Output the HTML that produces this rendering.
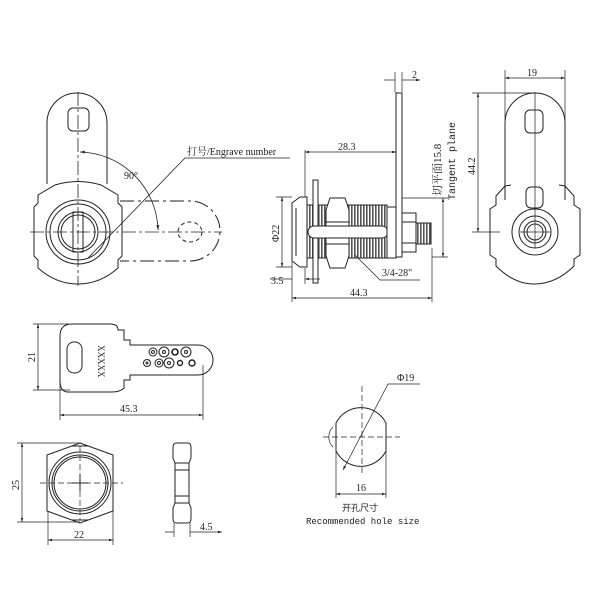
<!DOCTYPE html>
<html><head><meta charset="utf-8"><style>
html,body{margin:0;padding:0;background:#fff}
svg{display:block}
text{font-family:"Liberation Serif","Noto Serif CJK SC",serif;font-size:10px;fill:#222}
.m{font-family:"Liberation Mono","Noto Sans CJK SC",monospace;font-size:9px}
</style></head><body>
<svg width="600" height="600" viewBox="0 0 600 600" xmlns="http://www.w3.org/2000/svg">
<defs>
<pattern id="thr" width="3" height="10" patternUnits="userSpaceOnUse"><rect width="3" height="10" fill="#fff"/><rect width="1.6" height="10" fill="#555"/></pattern>
<marker id="a" viewBox="0 0 10 10" refX="10" refY="5" markerWidth="6" markerHeight="6" orient="auto-start-reverse"><path d="M0,2 L10,5 L0,8z" fill="#222"/></marker>
</defs>
<g fill="none" stroke="#222" stroke-width="1">
<path d="M47,184 V123 A30,30 0 0 1 107,123 V184"/>
<rect x="68" y="108" width="21" height="23" rx="5"/>
<path d="M55,185 Q78,178 101,185 L118,195 L118,203 L122,207 L122,256 L118,260 L118,268 Q100,284 78,284 Q56,284 38,268 L38,260 L34,256 L34,207 L38,203 L38,195 Z"/>
<circle cx="78" cy="232" r="32"/>
<circle cx="78" cy="232" r="28"/>
<circle cx="78" cy="232" r="20"/>
<circle cx="78" cy="232" r="17"/>
<rect x="73" y="212" width="10" height="40"/>
<path d="M120,201 H190 A30,30 0 0 1 190,261 H120" stroke-dasharray="14,4,3,4"/>
<ellipse cx="190" cy="232" rx="12" ry="10" stroke-dasharray="4,3"/>
<path d="M30,232 H222" stroke-dasharray="14,3,3,3" stroke-width="0.8"/>
<path d="M78,92 V286" stroke-dasharray="14,3,3,3" stroke-width="0.8"/>
<path d="M80,152 A80,80 0 0 1 158,230" marker-start="url(#a)" marker-end="url(#a)" stroke-width="0.8"/>
<path d="M88,258 L185,158 H290" stroke-width="0.8"/>
<rect x="396" y="93" width="6" height="164"/>
<path d="M292,203 L300,197 H307 V267 H300 L292,261 Z"/>
<path d="M296,208 V256"/>
<rect x="307" y="205" width="80" height="53" fill="url(#thr)"/>
<rect x="313" y="180" width="5" height="103" fill="#fff"/>
<path d="M330,198 H345 L349,210 V256 L345,268 H330 L326,256 V210 Z" fill="#fff"/>
<path d="M326,222 H349 M326,244 H349"/>
<rect x="308" y="226" width="80" height="12" rx="6" fill="#fff"/>
<rect x="387" y="207" width="9" height="51" fill="#fff"/>
<rect x="402" y="213" width="14" height="39" fill="#fff"/>
<path d="M402,222 H416 M402,243 H416"/>
<rect x="416" y="223" width="15" height="21" fill="url(#thr)"/>
<path d="M305,150 V197 M396,92 V150" stroke-width="0.7"/>
<path d="M305,152 H396" marker-start="url(#a)" marker-end="url(#a)" stroke-width="0.7"/>
<path d="M395,72 V92 M402,72 V92" stroke-width="0.7"/>
<path d="M384,80 H395 M413,80 H402 M413,80 H420" marker-end="url(#a)" stroke-width="0.7"/>
<path d="M276,197 H292 M276,267 H292" stroke-width="0.7"/>
<path d="M282,197 V267" marker-start="url(#a)" marker-end="url(#a)" stroke-width="0.7"/>
<path d="M292,262 V302 M305,268 V284 M432,248 V302" stroke-width="0.7"/>
<path d="M270,279 H292 M320,279 H305" marker-end="url(#a)" stroke-width="0.7"/>
<path d="M292,298 H432" marker-start="url(#a)" marker-end="url(#a)" stroke-width="0.7"/>
<path d="M355,255 L380,280 H420" stroke-width="0.7"/>
<path d="M402,198 H448 M432,257 H448" stroke-width="0.7"/>
<path d="M443,198 V257" marker-start="url(#a)" marker-end="url(#a)" stroke-width="0.7"/>
<path d="M505,200 V123 A30,30 0 0 1 565,123 V200"/>
<rect x="525" y="110" width="18" height="23" rx="5"/>
<rect x="526" y="187" width="17" height="21" rx="5"/>
<path d="M511,185 L505,186 L496,196 L496,205 L490,209 L490,255 L496,259 L496,266 Q514,284 534,284 Q556,284 574,266 L574,259 L580,255 L580,209 L574,205 L574,196 L565,186 L559,185"/>
<circle cx="535" cy="232" r="23"/>
<circle cx="535" cy="232" r="16"/>
<circle cx="535" cy="232" r="11"/>
<circle cx="535" cy="232" r="8"/>
<path d="M520,232 H550 M535,92 V248" stroke-width="0.7"/>
<path d="M505,70 V120 M565,70 V120 M472,93 H535 M472,232 H500" stroke-width="0.7"/>
<path d="M505,78 H565" marker-start="url(#a)" marker-end="url(#a)" stroke-width="0.7"/>
<path d="M478,93 V232" marker-start="url(#a)" marker-end="url(#a)" stroke-width="0.7"/>
<path d="M118,330 H124 V340 H130 V345 H198 A15,15 0 0 1 198,375 H130 V380 H124 V388 Q120,392 112,392 H68 Q60,392 60,380 V336 Q60,324 72,324 H110 Q118,324 118,330 Z"/>
<rect x="67" y="342" width="15" height="31" rx="7"/>
<circle cx="153" cy="352" r="4"/><circle cx="153" cy="352" r="1.5"/>
<circle cx="164" cy="352" r="5"/><circle cx="164" cy="352" r="1.5"/>
<circle cx="175" cy="352" r="3" stroke-width="1.6"/>
<circle cx="186" cy="352" r="5"/><circle cx="186" cy="352" r="1.5"/>
<circle cx="147" cy="363" r="3.5"/><circle cx="147" cy="363" r="1"/>
<circle cx="159" cy="363" r="4"/><circle cx="159" cy="363" r="1.5"/>
<circle cx="169" cy="363" r="5"/><circle cx="169" cy="363" r="1.5"/>
<circle cx="180" cy="363" r="2.5" stroke-width="1.4"/>
<circle cx="192" cy="363" r="3" stroke-width="1.4"/>
<path d="M33,324 H70 M33,390 H70 M60,380 V420 M203,365 V420" stroke-width="0.7"/>
<path d="M38,324 V390" marker-start="url(#a)" marker-end="url(#a)" stroke-width="0.7"/>
<path d="M60,415 H203" marker-start="url(#a)" marker-end="url(#a)" stroke-width="0.7"/>
<path d="M80,443 L113,455 V511 L80,523 L47,511 V455 Z"/>
<path d="M72,446 H88 M72,520 H88"/>
<circle cx="80" cy="483" r="31"/>
<circle cx="80" cy="483" r="28"/>
<circle cx="80" cy="483" r="26"/>
<path d="M40,483 H123 M80,446 V520" stroke-dasharray="6,3" stroke-width="0.7"/>
<path d="M72,483 H88 M80,475 V491"/>
<path d="M17,443 H80 M17,522 H80 M48,511 V545 M113,511 V545" stroke-width="0.7"/>
<path d="M22,443 V522" marker-start="url(#a)" marker-end="url(#a)" stroke-width="0.7"/>
<path d="M48,540 H113" marker-start="url(#a)" marker-end="url(#a)" stroke-width="0.7"/>
<path d="M176,443 H188 Q191,443 191,448 V458 L189,463 V503 L191,508 V518 Q191,523 188,523 H176 Q173,523 173,518 V508 L175,503 V463 L173,458 V448 Q173,443 176,443 Z"/>
<path d="M175,463 H189 M175,470 H189 M175,496 H189 M175,503 H189"/>
<path d="M174,523 V537 M190,523 V537" stroke-width="0.7"/>
<path d="M165,532 H174 M199,532 H190 M199,532 H222" marker-end="url(#a)" stroke-width="0.7"/>
<path d="M336,423 A28,28 0 0 1 386,423 V451 A28,28 0 0 1 336,451 Z"/>
<path d="M323,437 H400 M362,386 V476" stroke-dasharray="6,3" stroke-width="0.7"/>
<path d="M333,427 A14,14 0 0 0 333,447" stroke-width="0.7"/>
<path d="M343,470 L388,384 H420" stroke-width="0.7" marker-start="url(#a)"/>
<path d="M336,451 V498 M386,451 V498" stroke-width="0.7"/>
<path d="M336,494 H386" marker-start="url(#a)" marker-end="url(#a)" stroke-width="0.7"/>
</g>
<text x="124" y="179">90°</text>
<text x="187" y="155">打号/Engrave number</text>
<text x="338" y="150">28.3</text>
<text x="412" y="78">2</text>
<text transform="translate(279,242) rotate(-90)">Φ22</text>
<text x="271" y="284">3.5</text>
<text x="382" y="276">3/4-28"</text>
<text x="350" y="296">44.3</text>
<text transform="translate(441,196) rotate(-90)" style="font-size:11px">切平面15.8</text>
<text transform="translate(455,200) rotate(-90)" class="m" style="font-size:10px">Tangent plane</text>
<text x="527" y="76">19</text>
<text transform="translate(475,175) rotate(-90)">44.2</text>
<text transform="translate(98,345) rotate(90)" style="font-size:9px">XXXXX</text>
<text transform="translate(35,362) rotate(-90)">21</text>
<text x="120" y="412">45.3</text>
<text transform="translate(19,490) rotate(-90)">25</text>
<text x="74" y="538">22</text>
<text x="200" y="530">4.5</text>
<text x="397" y="381">Φ19</text>
<text x="356" y="491">16</text>
<text x="342" y="511" class="m">开孔尺寸</text>
<text x="306" y="524" class="m">Recommended hole size</text>
</svg>
</body></html>
